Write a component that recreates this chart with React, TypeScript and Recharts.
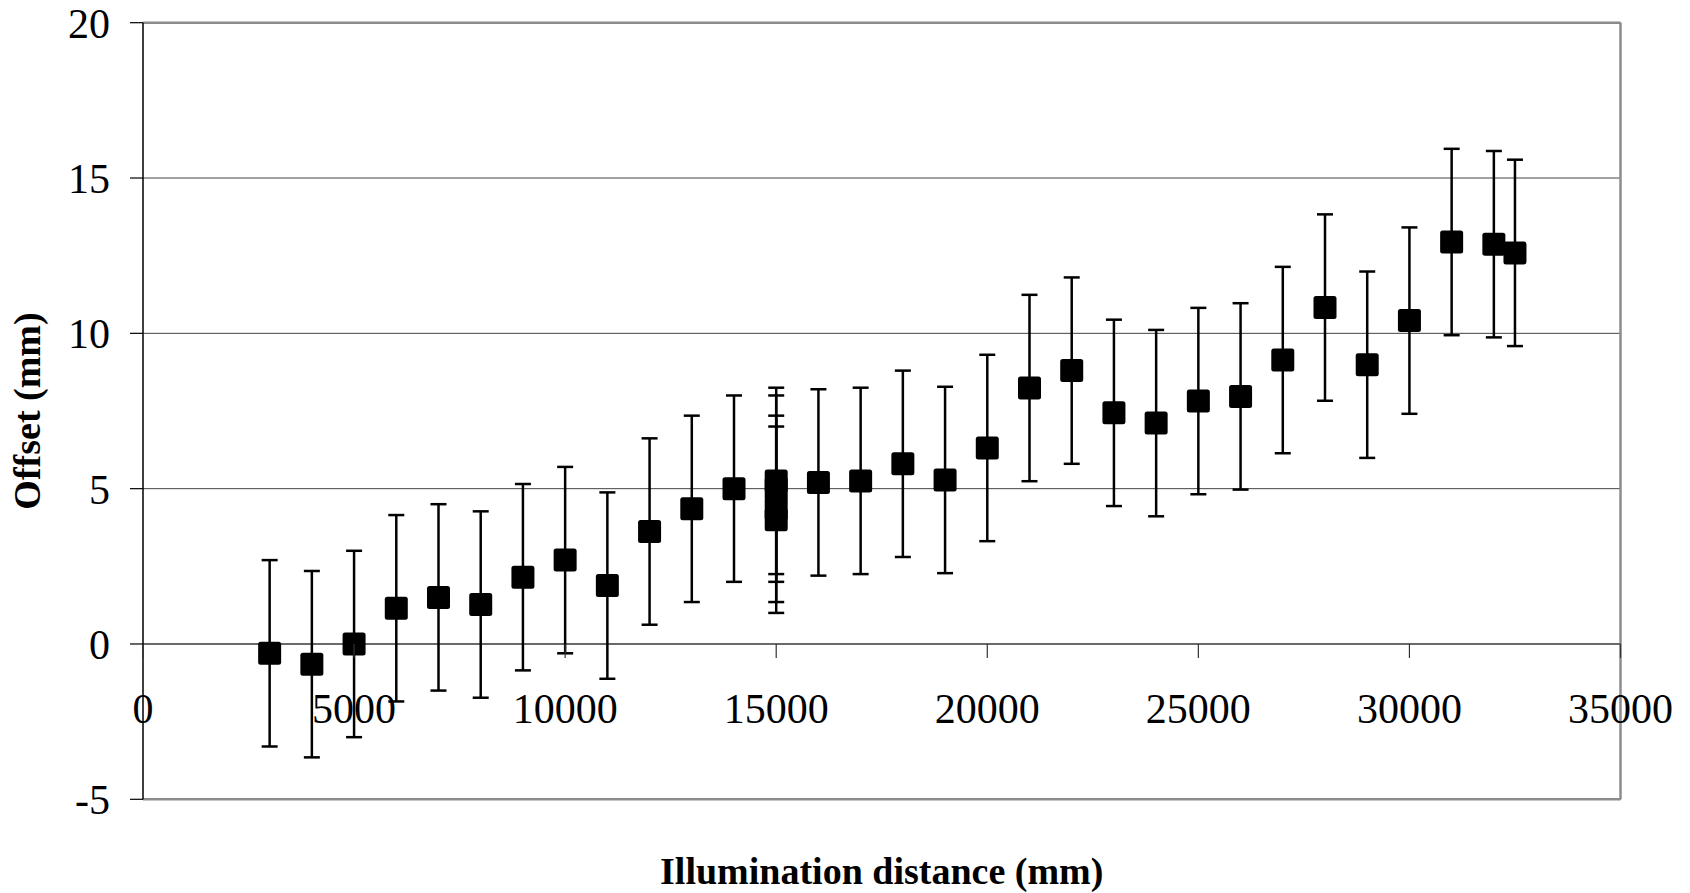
import React from "react";
import {
  ScatterChart,
  Scatter,
  XAxis,
  YAxis,
  CartesianGrid,
  ReferenceLine,
  ErrorBar,
} from "recharts";

// illumination distance (mm)
const distances = [
  3000, 4000, 5000, 6000, 7000, 8000, 9000, 10000, 11000, 12000, 13000, 14000,
  15000, 15000, 15000, 15000, 16000, 17000, 18000, 19000, 20000, 21000, 22000,
  23000, 24000, 25000, 26000, 27000, 28000, 29000, 30000, 31000, 32000, 32500,
];

// offset (mm)
const offsets = [
  -0.3, -0.65, 0.0, 1.15, 1.5, 1.27, 2.15, 2.7, 1.88, 3.62, 4.35, 5.0,
  5.25, 5.0, 4.35, 4.0, 5.2, 5.25, 5.8, 5.28, 6.31, 8.24, 8.8,
  7.44, 7.11, 7.82, 7.97, 9.14, 10.83, 8.99, 10.41, 12.94, 12.87, 12.59,
];

// error (+/- mm)
const errors = [
  3, 3, 3, 3, 3, 3, 3, 3, 3, 3, 3, 3,
  3, 3, 3, 3, 3, 3, 3, 3, 3, 3, 3,
  3, 3, 3, 3, 3, 3, 3, 3, 3, 3, 3,
];

const xTicks = [0, 5000, 10000, 15000, 20000, 25000, 30000, 35000];
const yTicks = [-5, 0, 5, 10, 15, 20];

const data = distances.map((x, i) => ({ x, y: offsets[i], err: errors[i] }));

const W = 1690;
const H = 893;
const TOP = 22.7;
const RIGHT = 69.5;
const Y_AXIS_W = 143;
const X_AXIS_H = 93.7;
const Y_MIN = -5;
const Y_MAX = 20;
const plotH = H - TOP - X_AXIS_H;
// the x axis crosses at y = 0
const zeroY = TOP + (plotH * (Y_MAX - 0)) / (Y_MAX - Y_MIN);

const font = "'Liberation Serif', 'Times New Roman', serif";

const XTick = (props: any) => {
  const { x, payload } = props;
  return (
    <g>
      <line x1={x} x2={x} y1={zeroY} y2={zeroY + 14} stroke="#333" strokeWidth={1.2} />
      <text x={x} y={zeroY + 79} textAnchor="middle" fontSize={42} fontFamily={font} fill="#000">
        {payload.value}
      </text>
    </g>
  );
};

const Square = (props: any) => {
  const { cx, cy } = props;
  if (cx == null || cy == null) return null;
  return <rect x={cx - 11.5} y={cy - 11.5} width={23} height={23} rx={2.5} fill="#000" />;
};

const YTitle = (props: any) => {
  const vb = props.viewBox || { x: 0, y: TOP, height: plotH };
  return (
    <text
      transform={`translate(${vb.x + 40}, ${vb.y + vb.height / 2}) rotate(-90)`}
      textAnchor="middle"
      fontSize={38}
      fontWeight="bold"
      fontFamily={font}
      fill="#000"
    >
      Offset (mm)
    </text>
  );
};

const XTitle = (props: any) => {
  const vb = props.viewBox || { x: Y_AXIS_W, y: H - X_AXIS_H, width: W - Y_AXIS_W - RIGHT };
  return (
    <text
      x={vb.x + vb.width / 2}
      y={H - 9}
      textAnchor="middle"
      fontSize={38}
      fontWeight="bold"
      fontFamily={font}
      fill="#000"
    >
      Illumination distance (mm)
    </text>
  );
};

export default function App() {
  return (
    <div style={{ position: "absolute", left: 0, top: 0, background: "#fff" }}>
      <ScatterChart width={W} height={H} margin={{ top: TOP, right: RIGHT, bottom: 0, left: 0 }}>
        <CartesianGrid vertical={false} stroke="#444" strokeWidth={1} />
        <ReferenceLine y={Y_MAX} stroke="#8c8c8c" strokeWidth={2.5} />
        <ReferenceLine y={Y_MIN} stroke="#8c8c8c" strokeWidth={2.5} />
        <ReferenceLine x={35000} stroke="#8c8c8c" strokeWidth={2.5} />
        <ReferenceLine y={0} stroke="#333" strokeWidth={1.2} />
        <XAxis
          dataKey="x"
          type="number"
          domain={[0, 35000]}
          ticks={xTicks}
          height={X_AXIS_H}
          axisLine={false}
          tickLine={false}
          tick={<XTick />}
          interval={0}
          label={{ content: <XTitle /> }}
        />
        <YAxis
          dataKey="y"
          type="number"
          domain={[Y_MIN, Y_MAX]}
          ticks={yTicks}
          width={Y_AXIS_W}
          axisLine={{ stroke: "#000", strokeWidth: 1.5 }}
          tickLine={{ stroke: "#000", strokeWidth: 1.2 }}
          tickSize={13}
          tickMargin={20}
          interval={0}
          tick={{ fontSize: 42, fontFamily: font, fill: "#000" }}
          label={{ content: <YTitle /> }}
        />
        <Scatter data={data} shape={<Square />} isAnimationActive={false}>
          <ErrorBar
            dataKey="err"
            direction="y"
            width={8}
            stroke="#000"
            strokeWidth={2.5}
            isAnimationActive={false}
          />
        </Scatter>
      </ScatterChart>
    </div>
  );
}
